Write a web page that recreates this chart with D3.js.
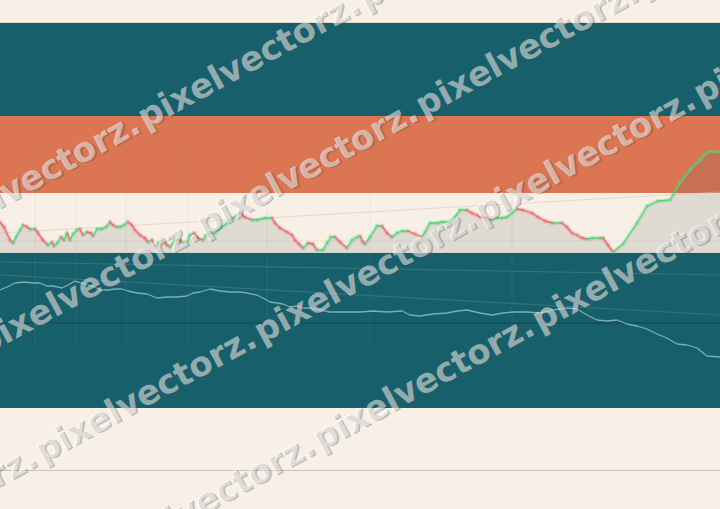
<!DOCTYPE html>
<html>
<head>
<meta charset="utf-8">
<script src="https://cdn.jsdelivr.net/npm/d3@7"></script>
<style>
html,body{margin:0;padding:0;background:#f8f0e6;}
svg{display:block;}
</style>
</head>
<body>
<svg id="chart" width="720" height="509"></svg>
<script>
// ---------- DATA ----------
const upperDays = [0,4,10,13,16,20,23,27,30,35,38,43,48,52,54,57,61,64,67,70,73,77,80,83,87,91,93,97,102,106,
  110,113,117,120,124,128,132,135,140,145,148,152,155,158,162,167,170,175,180,183,187,190,194,198,203,206,210,215,218,222,
  227,233,240,245,252,257,265,272,275,280,287,292,295,299,303,308,313,317,323,327,331,335,340,347,352,357,360,363,365,370,
  377,382,387,392,397,402,408,415,422,425,430,437,442,450,455,460,467,472,477,480,487,492,497,502,507,512,517,523,532,538,
  545,553,562,567,572,577,582,587,593,600,603,608,613,623,637,647,658,670,680,690,700,708,720];
const upperValues = [31,26,13,10,16,23,28,26,24,24,20,13,8,11,7,10,16,13,20,13,19,23,24,18,21,20,17,24,24,26,
  31,28,26,26,28,31,28,23,18,15,11,13,6,10,13,8,6,13,13,10,11,18,20,15,13,18,20,20,23,26,
  30,35,40,36,33,33,35,35,30,25,21,18,13,9,5,10,9,3,3,10,16,16,11,5,13,16,17,11,9,16,
  27,27,20,16,20,22,22,19,16,21,30,30,31,31,36,43,43,40,38,36,35,33,35,35,36,40,44,43,40,36,
  32,30,30,26,20,18,15,14,15,15,15,8,1,9,30,47,52,53,70,83,93,101,101];
const upperTrend = [{day: 0, value: 20}, {day: 720, value: 61}];

const lowerDays = [0,7,15,25,33,40,47,53,62,68,75,82,88,95,100,108,115,122,128,137,147,157,167,177,187,193,200,210,220,230,
  240,247,257,263,270,277,283,290,297,303,310,320,330,340,350,360,373,387,402,410,420,433,447,457,467,480,492,503,513,527,
  540,553,567,577,587,597,607,617,627,637,647,657,667,677,687,697,707,720];
const lowerValues = [70,73,77,78,77,77,74,74,72,75,79,77,75,73,70,70,71,71,69,67,66,62,63,63,64,67,68,71,69,68,
  68,67,65,62,58,57,56,53,54,52,52,50,48,48,48,48,49,48,49,45,44,46,47,49,50,47,45,47,48,48,
  47,50,52,51,45,40,39,40,36,34,31,26,22,16,15,12,4,3];
const lowerTrendA = [{day: 0, value: 98}, {day: 720, value: 85}];
const lowerTrendB = [{day: 0, value: 85}, {day: 720, value: 45}];
const lowerBase = 37;          // dark reference level in lower panel

const gridDays = [35, 76, 126, 188, 267, 370, 512];
const watermarkText = "pixelvectorz.";
const watermarkRows = [0, 1, 2, 3];

// ---------- LAYOUT ----------
const W = 720, H = 509;
const C = {cream: "#f8f0e6", teal: "#17606b", orange: "#dc7552",
           up: "#57d27a", down: "#ea6870", tealLine: "rgba(210,235,238,0.55)"};
const svg = d3.select("#chart");

const x = d3.scaleLinear().domain([0, 720]).range([0, W]);
const yUp = d3.scaleLinear().domain([0, 60]).range([253, 193]);
const yLow = d3.scaleLinear().domain([0, 100]).range([360, 260]);

// bands
svg.append("rect").attr("x",0).attr("y",0).attr("width",W).attr("height",H).attr("fill",C.cream);
svg.append("rect").attr("x",0).attr("y",22).attr("width",W).attr("height",1).attr("fill","#e2d9cd");
svg.append("rect").attr("x",0).attr("y",23).attr("width",W).attr("height",93).attr("fill",C.teal);
svg.append("rect").attr("x",0).attr("y",116).attr("width",W).attr("height",77).attr("fill",C.orange);
svg.append("rect").attr("x",0).attr("y",253).attr("width",W).attr("height",155).attr("fill",C.teal);
svg.append("rect").attr("x",0).attr("y",252).attr("width",W).attr("height",1).attr("fill","#ece6dc");

// grid
svg.append("g").selectAll("line").data(gridDays).join("line")
  .attr("x1", d => x(d)).attr("x2", d => x(d))
  .attr("y1", 150).attr("y2", 345)
  .attr("stroke", "rgba(140,140,140,0.13)").attr("stroke-width", 1);
svg.append("line").attr("x1",0).attr("x2",W).attr("y1",yUp(12)).attr("y2",yUp(12))
  .attr("stroke","rgba(140,140,140,0.12)");

// lower panel lines
const lineLow = d3.line().x(d => x(d.day)).y(d => yLow(d.value));
[lowerTrendA, lowerTrendB].forEach(t => {
  svg.append("path").attr("d", lineLow(t)).attr("fill","none")
    .attr("stroke","rgba(255,255,255,0.12)").attr("stroke-width",1.2);
});
svg.append("line").attr("x1",0).attr("x2",W).attr("y1",yLow(lowerBase)).attr("y2",yLow(lowerBase))
  .attr("stroke","#0d4750").attr("stroke-width",1.2);
const lowerData = lowerDays.map((d,i) => ({day: d, value: lowerValues[i]}));
svg.append("path").attr("d", lineLow(lowerData)).attr("fill","none")
  .attr("stroke", C.tealLine).attr("stroke-width",1.3).attr("stroke-linejoin","round");

// upper panel
const upperData = upperDays.map((d,i) => ({day: d, value: upperValues[i]}));
const area = d3.area().x(d => x(d.day)).y0(yUp(0)).y1(d => yUp(d.value));
svg.append("path").attr("d", area(upperData)).attr("fill","rgba(70,88,95,0.14)");
const lineUp = d3.line().x(d => x(d.day)).y(d => yUp(d.value));
svg.append("path").attr("d", lineUp(upperTrend)).attr("fill","none")
  .attr("stroke","rgba(205,198,188,0.55)").attr("stroke-width",1);

const segs = d3.pairs(upperData);
const gSeg = svg.append("g").attr("stroke-linecap","round");
gSeg.selectAll("path.halo").data(segs).join("path").attr("class","halo")
  .attr("d", d => lineUp(d)).attr("fill","none")
  .attr("stroke", d => d[1].value >= d[0].value ? C.up : C.down)
  .attr("stroke-opacity",0.22).attr("stroke-width",4.5);
gSeg.selectAll("path.core").data(segs).join("path").attr("class","core")
  .attr("d", d => lineUp(d)).attr("fill","none")
  .attr("stroke", d => d[1].value >= d[0].value ? C.up : C.down)
  .attr("stroke-width",1.3);

// bottom rule
svg.append("line").attr("x1",0).attr("x2",W).attr("y1",470.5).attr("y2",470.5)
  .attr("stroke","#cbc2b6").attr("stroke-width",1);

// watermark (rotated rows of repeated text), only instances that reach the canvas
const ang = -28.5, rad = ang * Math.PI / 180;
const ox = 0, oy = 195, period = 250, rowGap = 122, textLen = 249;
const toScreen = (px, py) => [ox + px * Math.cos(rad) - py * Math.sin(rad), oy + px * Math.sin(rad) + py * Math.cos(rad)];
const wm = svg.append("g").attr("transform", `translate(${ox},${oy}) rotate(${ang})`)
  .style("font-family","'DejaVu Sans', sans-serif").style("font-weight","bold").style("font-size","34px");
watermarkRows.forEach(j => {
  d3.range(-4, 6).forEach(k => {
    const tx = 159 + k * period, ty = j * rowGap;
    const a = toScreen(tx, ty), b = toScreen(tx + textLen, ty);
    const minX = Math.min(a[0], b[0]) - 15, maxX = Math.max(a[0], b[0]) + 15;
    const minY = Math.min(a[1], b[1]) - 15, maxY = Math.max(a[1], b[1]) + 15;
    if (maxX < 0 || minX > W || maxY < 0 || minY > H) return;
    wm.append("text").attr("x", tx + 1.5).attr("y", ty + 1.5).attr("dy","0.35em")
      .attr("fill","rgba(70,70,70,0.32)").text(watermarkText);
    wm.append("text").attr("x", tx).attr("y", ty).attr("dy","0.35em")
      .attr("fill","rgba(255,255,255,0.5)").text(watermarkText);
  });
});
</script>
</body>
</html>
